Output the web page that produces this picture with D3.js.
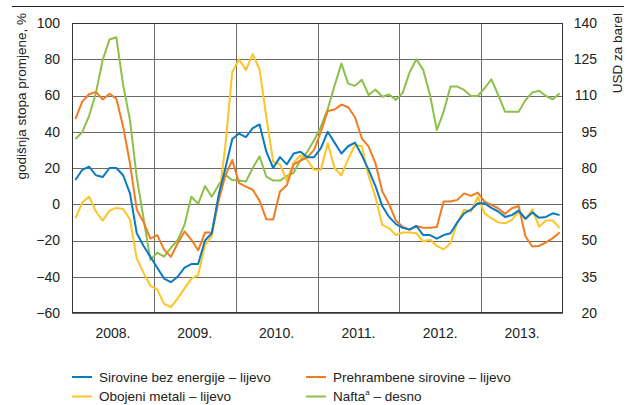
<!DOCTYPE html>
<html><head><meta charset="utf-8">
<script src="https://cdn.jsdelivr.net/npm/d3@7/dist/d3.min.js"></script>
<style>
body{margin:0;background:#fff;}
svg{display:block;font-family:"Liberation Sans Narrow","Arial Narrow","Liberation Sans",Arial,sans-serif;}
</style></head>
<body><svg id="c" width="630" height="405"></svg>
<script>
const years = ["2008.","2009.","2010.","2011.","2012.","2013."];
const leftTicks = [-60,-40,-20,0,20,40,60,80,100];
const rightTicks = [20,35,50,65,80,95,110,125,140];
const sirovine = [13.4,19,20.7,16,15,20,20,16,6,-16,-23,-29,-35,-41,-43,-40,-35,-33,-33,-20,-16,5,20,36,39,37,42,44,29,20,26,22,28,29,26,26,31,40,34,28,32,34,27,19,10,-1,-7,-11,-13,-14,-12,-17,-17,-19,-17,-16,-10,-5,-3,0.5,0.5,-2,-4,-7,-6,-3.5,-8,-4.5,-7.5,-7,-5,-6];
const prehrambene = [47,56.6,60.7,62,57.8,61,58.3,42.8,22.6,-3,-10,-19,-17,-25,-29,-21.5,-15,-19.6,-25.4,-15.6,-15.6,2,16,24.4,11.6,9.7,8,2,-8.3,-8.4,7,10.5,22,24,26,30,40,51.5,52.3,55,53.5,48,36.4,31.8,22.6,7,0,-9,-12.5,-14,-12,-13,-13,-12.6,1.5,1.5,2.4,6,4.6,6.4,1.5,-0.4,-2.2,-5.3,-2.2,-1,-17.8,-23.3,-23,-21,-18.7,-15.6];
const metali = [-7.8,0.9,4.2,-4,-9,-3.5,-2,-2.6,-8.4,-30,-38,-45,-47,-55,-56.8,-51.9,-46.4,-41,-39.1,-22.5,-17.6,2.3,32.7,73,80,74,82.8,74.5,48,23.5,22,13,23,27,24.4,19,19,33.6,20,16,25,32.7,32,15.5,4,-11.4,-13.2,-17,-15.6,-15.6,-16,-20.6,-19.6,-23,-24.9,-21.5,-10,-3,-4,4,-5,-7.7,-10,-10.5,-8.6,-4,-8.3,-2.8,-12.3,-9,-9,-13];
const nafta = [92,94.8,101.5,111,124.7,133.2,134.1,114.3,99.9,76,59,42,45,43.3,47,50.2,56.5,68.1,65.2,72.5,68.1,73,77.1,75,74.8,74.4,80,84.8,76.4,74.8,74.8,76.7,78,83.3,86.7,91.5,97.1,104.4,114,123.2,114.9,114,116.5,110.2,112.5,109.5,110.4,108.2,111.2,119.5,125,120.6,110.2,95.7,103.3,113.7,113.7,112.3,109.8,109.8,113,116.7,110.2,103.3,103.3,103.3,108.1,111.3,112,109.8,108.4,110.9];

const svg = d3.select("#c");
const L=72,R=563,T=23,B=313;
const x = d3.scaleLinear().domain([0,years.length*12]).range([L,R]);
const yL = d3.scaleLinear().domain([-60,100]).range([B,T]);
const yR = d3.scaleLinear().domain([20,140]).range([B,T]);

// top rule
svg.append("line").attr("x1",12).attr("x2",624).attr("y1",6.5).attr("y2",6.5).attr("stroke","#222").attr("stroke-width",1);

// grid
const g = svg.append("g");
g.selectAll(".hg").data(leftTicks).enter().append("line")
 .attr("x1",L).attr("x2",R).attr("y1",d=>Math.round(yL(d))+0.5).attr("y2",d=>Math.round(yL(d))+0.5)
 .attr("stroke","#6b6b6b").attr("stroke-width",1);
g.selectAll(".vg").data(d3.range(1,years.length)).enter().append("line")
 .attr("y1",T).attr("y2",B).attr("x1",d=>Math.round(x(d*12))+0.5).attr("x2",d=>Math.round(x(d*12))+0.5)
 .attr("stroke","#6b6b6b").attr("stroke-width",1);

// axes
const fs = 14;
const ax = svg.append("g").attr("transform",`translate(${L},0)`)
 .call(d3.axisLeft(yL).tickValues(leftTicks).tickSize(0).tickPadding(12));
ax.select(".domain").remove();
ax.selectAll("text").attr("font-size",fs).attr("fill","#222").attr("font-family",null);
const ar = svg.append("g").attr("transform",`translate(${R},0)`)
 .call(d3.axisRight(yR).tickValues(rightTicks).tickSize(0).tickPadding(12));
ar.select(".domain").remove();
ar.selectAll("text").attr("font-size",fs).attr("fill","#222").attr("font-family",null)
 .attr("text-anchor","end").attr("x",34);

svg.append("g").selectAll("text").data(years).enter().append("text")
 .attr("x",(d,i)=>x(i*12+6)).attr("y",338).attr("text-anchor","middle")
 .attr("font-size",fs).attr("fill","#222").text(d=>d);

svg.append("text").attr("transform","translate(26,13) rotate(-90)").attr("text-anchor","end")
 .attr("font-size",13.5).attr("fill","#222").text("godišnja stopa promjene, %");
svg.append("text").attr("transform","translate(622,13) rotate(-90)").attr("text-anchor","end")
 .attr("font-size",13.5).attr("fill","#222").text("USD za barel");

// lines
const series = [
 {v:nafta, s:yR, c:"#8cc04b"},
 {v:metali, s:yL, c:"#ffc425"},
 {v:prehrambene, s:yL, c:"#f47b20"},
 {v:sirovine, s:yL, c:"#0a7bc1"}
];
series.forEach(se=>{
 svg.append("path").datum(se.v)
  .attr("d", d3.line().x((d,i)=>x(i+0.5)).y(d=>se.s(d)))
  .attr("fill","none").attr("stroke",se.c).attr("stroke-width",2).attr("stroke-linejoin","round");
});

// frame
svg.append("rect").attr("x",L+0.5).attr("y",T+0.5).attr("width",R-L-1).attr("height",B-T-1)
 .attr("fill","none").attr("stroke","#333").attr("stroke-width",1);

// legend
const lfs = 13.5;
const legend = [
 {t:"Sirovine bez energije – lijevo", c:"#0a7bc1", x:72, y:377},
 {t:"Prehrambene sirovine – lijevo", c:"#f47b20", x:306, y:377},
 {t:"Obojeni metali – lijevo", c:"#ffc425", x:72, y:396.5},
 {t:"Nafta", sup:"a", rest:" – desno", c:"#8cc04b", x:306, y:396.5}
];
legend.forEach(l=>{
 svg.append("line").attr("x1",l.x).attr("x2",l.x+20).attr("y1",l.y).attr("y2",l.y).attr("stroke",l.c).attr("stroke-width",2);
 const t = svg.append("text").attr("x",l.x+27).attr("y",l.y+4.5).attr("font-size",lfs).attr("fill","#222");
 if(l.sup){
  t.append("tspan").text(l.t);
  t.append("tspan").attr("font-size",8).attr("dy",-6).text(l.sup);
  t.append("tspan").attr("dy",6).text(l.rest);
 } else t.text(l.t);
});
</script></body></html>
